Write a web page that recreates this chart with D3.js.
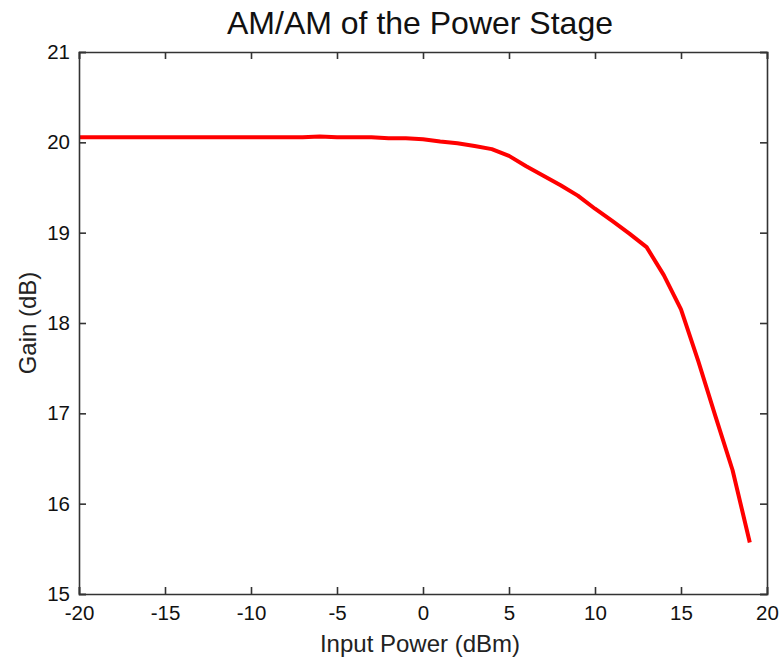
<!DOCTYPE html>
<html>
<head>
<meta charset="utf-8">
<script src="https://cdn.jsdelivr.net/npm/d3@7"></script>
<style>
  html, body { margin: 0; padding: 0; background: #fff; }
  svg { display: block; font-family: "Liberation Sans", Arial, Helvetica, sans-serif; }
</style>
</head>
<body>
<svg id="chart" width="780" height="660"></svg>
<script>
// Measured AM/AM response of the power stage
const inputPower = [-20, -19, -18, -17, -16, -15, -14, -13, -12, -11, -10, -9, -8, -7,
  -6, -5, -4, -3, -2, -1, 0, 1, 2, 3, 4, 5, 6, 7, 8, 9, 10, 11, 12, 13, 14, 15, 16, 17, 18, 19];
const gainDb = [20.055, 20.055, 20.055, 20.055, 20.055, 20.055, 20.055, 20.055, 20.055, 20.055, 20.055, 20.055, 20.055, 20.055,
  20.065, 20.055, 20.055, 20.055, 20.045, 20.045, 20.035, 20.01, 19.99, 19.96, 19.925, 19.85, 19.735, 19.63, 19.525, 19.41,
  19.265, 19.13, 18.99, 18.84, 18.53, 18.15, 17.58, 16.97, 16.37, 15.57];
const xTicks = [-20, -15, -10, -5, 0, 5, 10, 15, 20];
const yTicks = [15, 16, 17, 18, 19, 20, 21];

const titleText = "AM/AM of the Power Stage";
const xLabelText = "Input Power (dBm)";
const yLabelText = "Gain (dB)";

const svg = d3.select("#chart");
const plot = { left: 79, right: 767, top: 52, bottom: 594 };
const axisColor = "#333333";
const tickLen = 7;

const x = d3.scaleLinear().domain([-20, 20]).range([plot.left, plot.right]);
const y = d3.scaleLinear().domain([15, 21]).range([plot.bottom, plot.top]);

// curve
const line = d3.line().x((d, i) => x(inputPower[i])).y(d => y(d));
svg.append("path")
  .datum(gainDb)
  .attr("d", line)
  .attr("fill", "none")
  .attr("stroke", "#ff0000")
  .attr("stroke-width", 4)
  .attr("stroke-linejoin", "round");

// box-style axes with inward ticks on all sides (plain hyphen for negatives)
const fmt = d => String(d);
const bottomAxis = d3.axisBottom(x).tickValues(xTicks).tickSize(-tickLen).tickPadding(11).tickFormat(fmt);
const topAxis = d3.axisTop(x).tickValues(xTicks).tickSize(-tickLen).tickFormat("");
const leftAxis = d3.axisLeft(y).tickValues(yTicks).tickSize(-tickLen).tickPadding(9).tickFormat(fmt);
const rightAxis = d3.axisRight(y).tickValues(yTicks).tickSize(-tickLen).tickFormat("");

function style(g) {
  g.select(".domain").attr("stroke", axisColor).attr("stroke-width", 1.6);
  g.selectAll(".tick line").attr("stroke", axisColor).attr("stroke-width", 1.6);
  g.selectAll(".tick text").attr("fill", "#111").attr("font-size", 20.5)
    .attr("font-family", "'Liberation Sans', Arial, sans-serif");
}

svg.append("g").attr("transform", `translate(0,${plot.bottom})`).call(bottomAxis).call(style);
svg.append("g").attr("transform", `translate(0,${plot.top})`).call(topAxis).call(style);
svg.append("g").attr("transform", `translate(${plot.left},0)`).call(leftAxis).call(style);
svg.append("g").attr("transform", `translate(${plot.right},0)`).call(rightAxis).call(style);

// title and axis labels
svg.append("text")
  .attr("x", 420).attr("y", 34)
  .attr("text-anchor", "middle")
  .attr("font-size", 32)
  .attr("fill", "#111")
  .text(titleText);

svg.append("text")
  .attr("x", 420).attr("y", 652)
  .attr("text-anchor", "middle")
  .attr("font-size", 24)
  .attr("fill", "#222")
  .text(xLabelText);

svg.append("text")
  .attr("transform", `translate(36,323) rotate(-90)`)
  .attr("text-anchor", "middle")
  .attr("font-size", 24)
  .attr("fill", "#222")
  .text(yLabelText);
</script>
</body>
</html>
